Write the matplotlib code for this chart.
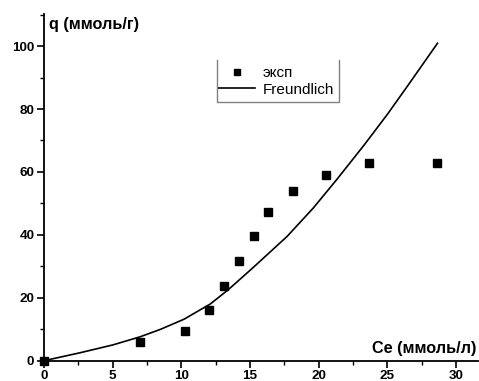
import numpy as np
import matplotlib.pyplot as plt
from matplotlib.lines import Line2D
from matplotlib.ticker import MultipleLocator

plt.rcParams['font.family'] = ['Liberation Sans', 'DejaVu Sans']

# experimental points
ce_exp = [0.0, 7.0, 10.3, 12.0, 13.1, 14.2, 15.3, 16.3, 18.1, 20.5, 23.7, 28.6]
q_exp = [0.0, 5.8, 9.3, 16.0, 23.7, 31.6, 39.5, 47.3, 54.0, 59.0, 62.8, 62.8]

# Freundlich curve
ce_fit = [0.0, 2.6, 5.0, 7.0, 8.5, 10.2, 12.1, 13.4, 15.2, 17.7, 19.6, 21.3,
          23.3, 25.0, 26.5, 28.65]
q_fit = [0.0, 2.5, 5.0, 7.6, 10.0, 13.2, 18.0, 22.5, 29.5, 39.5, 48.5, 57.5,
         68.5, 78.3, 87.5, 100.9]

xticks = [0, 5, 10, 15, 20, 25, 30]
yticks = [0, 20, 40, 60, 80, 100]

W, H = 479, 381
fig = plt.figure(figsize=(W / 100, H / 100), dpi=100)
ax = fig.add_axes([44 / W, 1 - 360.7 / H, (478 - 44) / W, (360.7 - 14) / H])

ax.plot(ce_fit, q_fit, color='black', lw=1.2, label='Freundlich')
ax.plot(ce_exp, q_exp, 's', color='black', ms=5.5, label='эксп', clip_on=False)

ax.set_xlim(0, 31.6)
ax.set_ylim(0, 110.2)
ax.set_xticks(xticks)
ax.set_yticks(yticks)
ax.xaxis.set_minor_locator(MultipleLocator(2.5))
ax.yaxis.set_minor_locator(MultipleLocator(10))
for s in ['top', 'right']:
    ax.spines[s].set_visible(False)
for s in ['left', 'bottom']:
    ax.spines[s].set_linewidth(1.3)
ax.tick_params(which='major', direction='out', length=5, width=1.2, labelsize=9.7, pad=2)
ax.tick_params(which='minor', direction='out', length=3, width=1.0)
for lab in ax.get_xticklabels() + ax.get_yticklabels():
    lab.set_fontweight('bold')

fig.text(49 / W, 1 - 25 / H, 'q (ммоль/г)', fontsize=11.7, fontweight='bold', va='center', ha='left')
fig.text(476 / W, 1 - 349 / H, 'Ce (ммоль/л)', fontsize=11.7, fontweight='bold', va='center', ha='right')

h, l = ax.get_legend_handles_labels()
leg = ax.legend([h[1], h[0]], [l[1], l[0]], frameon=False, fontsize=11,
                loc='upper left', bbox_to_anchor=(206 / W, 1 - 54 / H),
                bbox_transform=fig.transFigure, handlelength=2.4, markerscale=0.8,
                handletextpad=0.5, labelspacing=0.15, borderpad=0.3)

# legend frame without the top edge
fc = '#808080'
x0, x1, y0, y1 = 217 / W, 339 / W, 1 - 60 / H, 1 - 102 / H
fig.add_artist(Line2D([x0, x0, x1, x1], [y0, y1, y1, y0], color=fc, lw=1.0,
                      transform=fig.transFigure))

fig.savefig('out.png', dpi=100)
